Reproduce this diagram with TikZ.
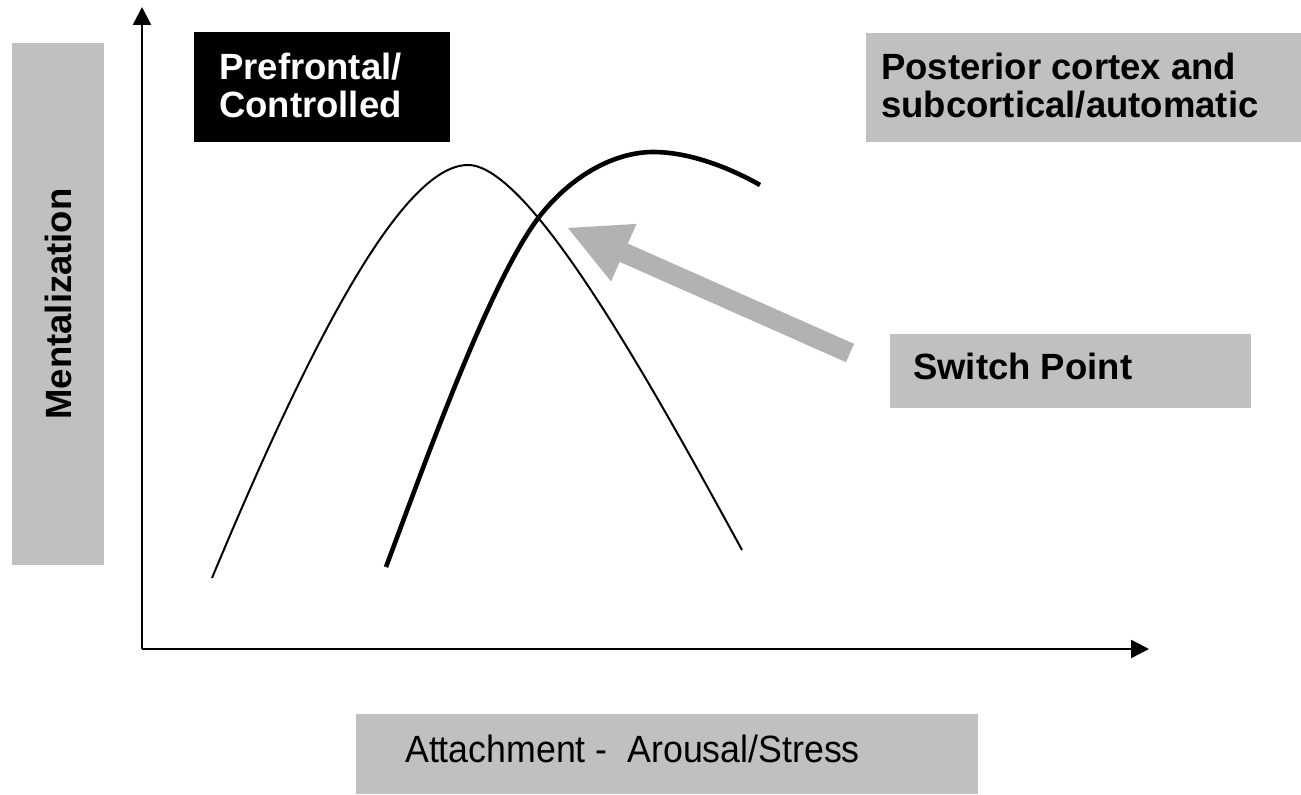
\documentclass[tikz,border=0pt]{standalone}
\usepackage{fontspec}
\setmainfont{Liberation Sans}
\usetikzlibrary{arrows.meta}
\definecolor{boxgray}{RGB}{192,192,192}
\definecolor{arrowgray}{RGB}{178,178,178}
\begin{document}
\begin{tikzpicture}[x=1bp,y=-1bp,
  panel/.style={fill=boxgray, draw=none, inner sep=0pt, anchor=north west},
  heading/.style={font=\fontsize{36.5bp}{38bp}\selectfont\bfseries, inner sep=0pt, align=left},
  axis/.style={line width=2.4bp, -{Triangle[length=18bp,width=18bp]}},
  curve/.style={line cap=butt, line join=round},
  ]
\useasboundingbox[fill=white] (0,0) rectangle (1301,794);

% label panels (two-line headings are anchored on their last baseline)
\node[panel, minimum width=92bp, minimum height=522bp] (mentbox) at (12,43) {};
\node[heading, rotate=90] (ment) at (58,304) {Mentalization};

\node[panel, fill=black, minimum width=256bp, minimum height=110bp] (pfbox) at (194,32) {};
\node[heading, text=white, anchor=base west] (pf) at (219,117) {Prefrontal/\\Controlled};

\node[panel, minimum width=435bp, minimum height=109bp] (postbox) at (866,33) {};
\node[heading, anchor=base west] (post) at (881,117) {Posterior cortex and\\subcortical/automatic};

\node[panel, minimum width=361bp, minimum height=74bp] (swbox) at (890,334) {};
\node[heading, anchor=base west] (sw) at (913,379) {Switch Point};

\node[panel, minimum width=622bp, minimum height=80bp] (attbox) at (356,714) {};
\node[anchor=base west, inner sep=0pt, font=\fontsize{38bp}{40bp}\selectfont] (att) at (405,762)
  {\scalebox{0.94}[1]{Attachment -\ \ Arousal/Stress}};

% axes
\coordinate (origin) at (142,649);
\coordinate (ytop) at (142,7);
\coordinate (xend) at (1149,649);
\draw[axis] (origin) -- (ytop);
\draw[axis] (origin) -- (xend);

% prefrontal (controlled) curve
\draw[curve, line width=2bp] (212,578) .. controls (305,355) and (400,165) .. (468,165)
  .. controls (530,165) and (652,385) .. (742,550);

% posterior/subcortical (automatic) curve
\draw[curve, line width=4.6bp] (386,567) .. controls (426,460) and (493,272) .. (543,212)
  .. controls (578,170) and (620,152) .. (653,152)
  .. controls (690,152) and (730,168) .. (760,185);

% switch point arrow
\coordinate (arrowtail) at (850,353);
\coordinate (switchpt) at (568,228);
\draw[line width=20bp, arrowgray, -{Triangle[length=61bp,width=63bp,line width=0pt]}] (arrowtail) -- (switchpt);
\end{tikzpicture}
\end{document}
